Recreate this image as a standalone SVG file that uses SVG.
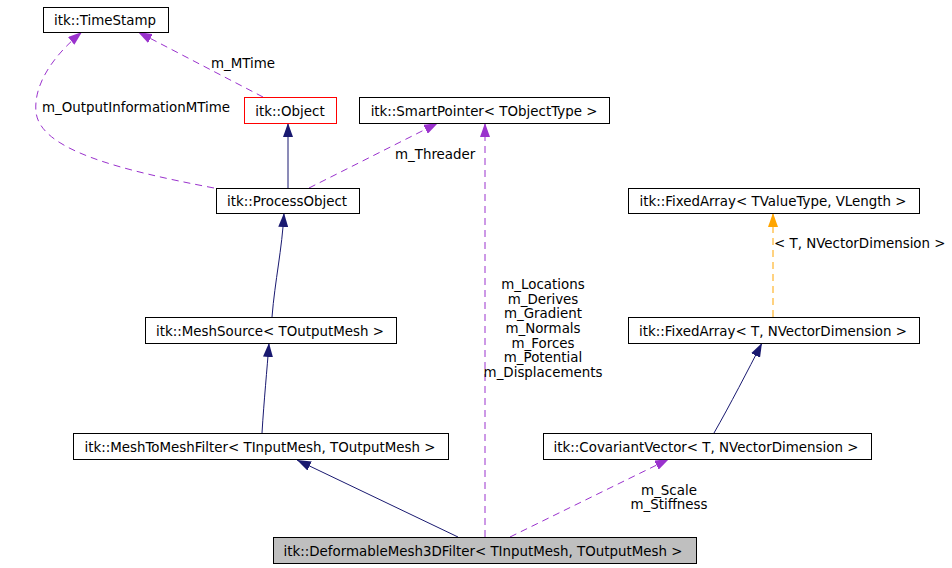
<svg xmlns="http://www.w3.org/2000/svg" width="952" height="568" viewBox="0 0 952 568">
<style>
  text { font-family: "DejaVu Sans", "Liberation Sans", sans-serif; font-size: 13.4px; fill: #000; }
  .node rect { fill: #fff; stroke: #000; stroke-width: 1; }
  .node text { text-anchor: middle; }
  .inh { fill: none; stroke: #191970; stroke-width: 1; }
  .use { fill: none; stroke: #9a32cd; stroke-width: 1; stroke-dasharray: 7,5; }
  .tpl { fill: none; stroke: #ffa500; stroke-width: 1; stroke-dasharray: 7,5; }
  .lbl { text-anchor: middle; }
</style>
<defs>
  <marker id="aNavy" markerUnits="userSpaceOnUse" markerWidth="14" markerHeight="10" viewBox="0 0 14 10" refX="14" refY="5" orient="auto">
    <path d="M0,0 L14,5 L0,10 z" fill="#191970"/>
  </marker>
  <marker id="aPurple" markerUnits="userSpaceOnUse" markerWidth="14" markerHeight="10" viewBox="0 0 14 10" refX="14" refY="5" orient="auto">
    <path d="M0,0 L14,5 L0,10 z" fill="#9a32cd"/>
  </marker>
  <marker id="aOrange" markerUnits="userSpaceOnUse" markerWidth="14" markerHeight="10" viewBox="0 0 14 10" refX="14" refY="5" orient="auto">
    <path d="M0,0 L14,5 L0,10 z" fill="#ffa500"/>
  </marker>
</defs>

<g id="connectors">
  <path class="inh" d="M288,188 L288,123" marker-end="url(#aNavy)"/>
  <path class="inh" d="M272,317 C275,280 282,250 284,213" marker-end="url(#aNavy)"/>
  <path class="inh" d="M262,433 C264,400 267,370 269,343" marker-end="url(#aNavy)"/>
  <path class="inh" d="M458,537 L297,460" marker-end="url(#aNavy)"/>
  <path class="inh" d="M714,433 C730,405 748,370 762,343" marker-end="url(#aNavy)"/>
  <path class="tpl" d="M773,317 L773,213" marker-end="url(#aOrange)"/>
  <path class="use" d="M510,537 L669,459" marker-end="url(#aPurple)"/>
  <path class="use" d="M485,537 L485,123" marker-end="url(#aPurple)"/>
  <path class="use" d="M309,188 L438,123" marker-end="url(#aPurple)"/>
  <path class="use" d="M263,97 L138,32" marker-end="url(#aPurple)"/>
  <path class="use" d="M214,188 C120,170 40,150 36,112 C33,80 60,50 82,32" marker-end="url(#aPurple)"/>
  <text x="211" y="68">m_MTime</text>
  <text x="42" y="112">m_OutputInformationMTime</text>
  <text x="395" y="159">m_Threader</text>
  <text x="774" y="248">&lt; T, NVectorDimension &gt;</text>
  <text class="lbl" x="543" y="289">m_Locations</text>
  <text class="lbl" x="543" y="304">m_Derives</text>
  <text class="lbl" x="543" y="318">m_Gradient</text>
  <text class="lbl" x="543" y="333">m_Normals</text>
  <text class="lbl" x="543" y="348">m_Forces</text>
  <text class="lbl" x="543" y="362">m_Potential</text>
  <text class="lbl" x="543" y="377">m_Displacements</text>
  <text class="lbl" x="669" y="495">m_Scale</text>
  <text class="lbl" x="669" y="509">m_Stiffness</text>
</g>

<g id="timestamp" class="node">
  <rect x="43.5" y="7.5" width="125" height="25"/>
  <text x="105" y="25">itk::TimeStamp</text>
</g>
<g id="object" class="node">
  <rect x="244.5" y="97.5" width="92" height="26" style="stroke:#ff0000"/>
  <text x="290" y="115.5">itk::Object</text>
</g>
<g id="smartpointer" class="node">
  <rect x="359.5" y="97.5" width="250" height="26"/>
  <text x="484" y="115.5">itk::SmartPointer&lt; TObjectType &gt;</text>
</g>
<g id="processobject" class="node">
  <rect x="216.5" y="188.5" width="143" height="25"/>
  <text x="287" y="206">itk::ProcessObject</text>
</g>
<g id="fixedarray_tv" class="node">
  <rect x="628.5" y="188.5" width="291" height="25"/>
  <text x="773" y="206">itk::FixedArray&lt; TValueType, VLength &gt;</text>
</g>
<g id="meshsource" class="node">
  <rect x="145.5" y="317.5" width="251" height="26"/>
  <text x="270" y="335.5">itk::MeshSource&lt; TOutputMesh &gt;</text>
</g>
<g id="fixedarray_t" class="node">
  <rect x="628.5" y="317.5" width="291" height="26"/>
  <text x="773" y="335.5">itk::FixedArray&lt; T, NVectorDimension &gt;</text>
</g>
<g id="meshtomeshfilter" class="node">
  <rect x="73.5" y="433.5" width="375" height="26"/>
  <text x="260" y="451.5">itk::MeshToMeshFilter&lt; TInputMesh, TOutputMesh &gt;</text>
</g>
<g id="covariantvector" class="node">
  <rect x="543.5" y="433.5" width="328" height="26"/>
  <text x="706" y="451.5">itk::CovariantVector&lt; T, NVectorDimension &gt;</text>
</g>
<g id="deformablemesh3dfilter" class="node">
  <rect x="273.5" y="537.5" width="423" height="26" style="fill:#bfbfbf"/>
  <text x="483" y="555.5">itk::DeformableMesh3DFilter&lt; TInputMesh, TOutputMesh &gt;</text>
</g>
</svg>
